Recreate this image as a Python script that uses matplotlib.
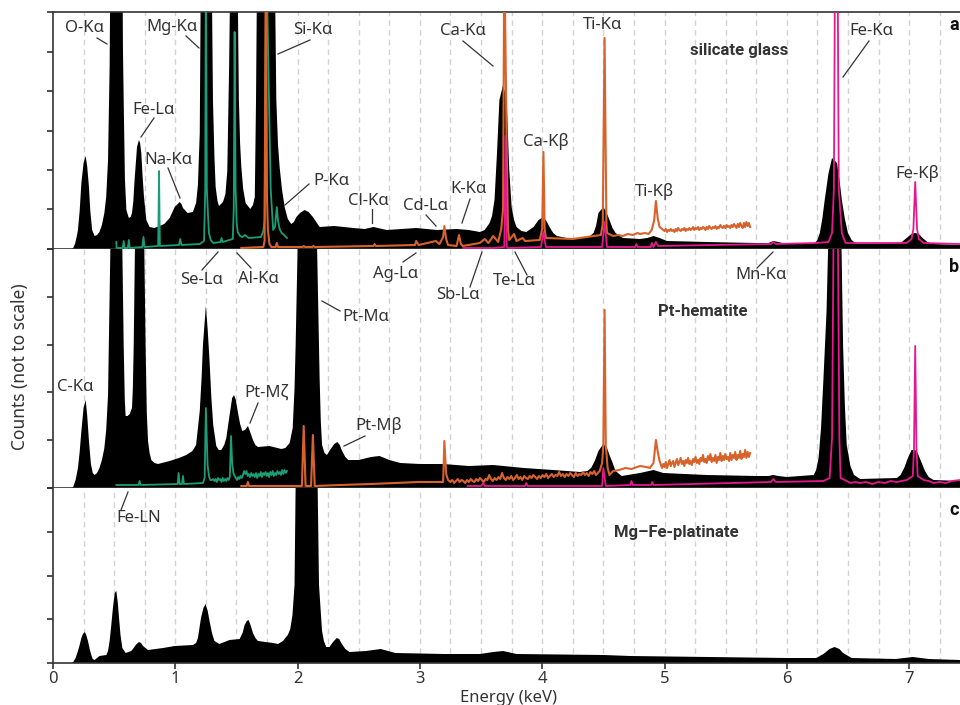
import numpy as np
import matplotlib.pyplot as plt
from matplotlib.lines import Line2D

plt.rcParams["font.family"] = ["Noto Sans", "DejaVu Sans"]

# energies in keV, counts in arbitrary units (not to scale)
# panel a, silicate glass: rows are (energy, counts)
a_black = np.array([
    (0, 0), (.15, 0), (.165, 1), (.18, 5), (.195, 13), (.204, 19), (.218, 38), (.232, 66), (.25, 86), (.267, 93), (.28, 82),
    (.294, 62), (.305, 38), (.32, 19), (.34, 13), (.36, 14), (.38, 17), (.40, 24), (.42, 36), (.435, 52), (.45, 89), (.463, 182),
    (.47, 300), (.52, 900), (.567, 300), (.572, 200), (.578, 149), (.588, 70), (.6, 39), (.62, 31), (.635, 32), (.646, 36), (.657, 48),
    (.667, 69), (.687, 102), (.703, 109), (.712, 106), (.722, 96), (.733, 72), (.744, 52), (.763, 29), (.79, 22), (.83, 21), (.87, 23),
    (.91, 25), (.954, 31), (.995, 42), (1.02, 45), (1.035, 47), (1.05, 45), (1.063, 41), (1.10, 36), (1.144, 37), (1.17, 46), (1.185, 64),
    (1.2, 116), (1.21, 300), (1.25, 900), (1.296, 300), (1.308, 149), (1.32, 92), (1.33, 62), (1.345, 48), (1.357, 43), (1.39, 47),
    (1.41, 55), (1.425, 78), (1.44, 182), (1.452, 300), (1.487, 700), (1.507, 300), (1.52, 149), (1.53, 105), (1.54, 82), (1.555, 60),
    (1.575, 46), (1.613, 40), (1.635, 44), (1.65, 52), (1.66, 149), (1.67, 300), (1.74, 900), (1.812, 300), (1.826, 149), (1.84, 104),
    (1.853, 82), (1.872, 60), (1.894, 42), (1.92, 30), (1.948, 25), (1.97, 27), (1.99, 32), (2.02, 36), (2.057, 39), (2.09, 37), (2.125, 32),
    (2.18, 22), (2.3, 23), (2.456, 21), (2.55, 20), (2.62, 22), (2.73, 19), (2.85, 20), (2.97, 21), (3.14, 19), (3.3, 20), (3.4, 19),
    (3.49, 17), (3.53, 19), (3.57, 26), (3.59, 33), (3.61, 49), (3.63, 95), (3.65, 149), (3.68, 164), (3.71, 149), (3.73, 80), (3.75, 42),
    (3.77, 29), (3.79, 22), (3.83, 18), (3.87, 17), (3.93, 22), (3.97, 29), (4.01, 32), (4.035, 28), (4.06, 22), (4.09, 16), (4.12, 13),
    (4.2, 11), (4.31, 11), (4.38, 12), (4.42, 16), (4.44, 23), (4.46, 36), (4.5, 42), (4.525, 37), (4.55, 29), (4.575, 21), (4.6, 16),
    (4.66, 11), (4.8, 10), (4.86, 11), (4.91, 13), (4.96, 11), (5.02, 8), (5.345, 7), (5.75, 6), (5.85, 6), (5.89, 8), (5.93, 7), (6.0, 5),
    (6.23, 6), (6.25, 9), (6.27, 16), (6.29, 30), (6.31, 49), (6.34, 75), (6.37, 91), (6.41, 86), (6.43, 70), (6.45, 49), (6.475, 30), (6.5, 16),
    (6.53, 9), (6.57, 5), (6.93, 6), (6.98, 11), (7.02, 15), (7.05, 16), (7.08, 15), (7.11, 11), (7.15, 7), (7.2, 5), (7.416, 4),
])
a_green = np.array([
    (.518, 7), (.52, 1), (.57, 1), (.578, 8), (.585, 1), (.612, 1), (.62, 9), (.628, 1), (.73, 2), (.74, 12), (.748, 2), (.86, 3),
    (.867, 78), (.874, 3), (1.03, 4), (1.04, 10), (1.05, 4), (1.2, 5), (1.235, 8), (1.245, 60), (1.25, 300), (1.258, 60), (1.267, 35),
    (1.275, 16), (1.29, 9), (1.31, 6), (1.37, 7), (1.378, 11), (1.386, 7), (1.47, 10), (1.478, 40), (1.485, 217), (1.493, 61),
    (1.502, 26), (1.51, 17), (1.53, 13), (1.55, 12), (1.57, 14), (1.60, 11), (1.70, 12), (1.72, 18), (1.73, 30), (1.744, 300),
    (1.766, 149), (1.78, 60), (1.8, 19), (1.815, 22), (1.83, 42), (1.84, 28), (1.853, 20), (1.87, 16), (1.89, 14), (1.913, 11),
])
a_orange = np.array([
    (1.54, 1), (1.72, 2), (1.73, 8), (1.74, 300), (1.75, 50), (1.757, 19), (1.77, 5), (1.785, 2), (1.82, 2), (1.83, 6), (1.84, 2),
    (2.04, 2), (2.05, 3), (2.06, 2), (2.12, 2), (2.13, 3), (2.14, 2), (2.62, 3), (2.63, 5), (2.64, 3), (2.96, 4), (2.97, 8), (2.99, 4),
    (3.13, 8), (3.16, 5), (3.19, 12), (3.2, 23), (3.215, 10), (3.23, 4), (3.3, 3), (3.32, 14), (3.335, 5), (3.35, 3), (3.49, 6), (3.53, 10),
    (3.56, 6), (3.6, 13), (3.64, 7), (3.665, 20), (3.68, 40), (3.69, 300), (3.7, 200), (3.71, 100), (3.72, 20), (3.73, 9), (3.77, 15),
    (3.79, 8), (3.84, 11), (3.86, 8), (3.98, 9), (4.0, 20), (4.01, 97), (4.02, 20), (4.03, 11), (4.25, 10), (4.48, 14), (4.495, 25),
    (4.51, 211), (4.525, 25), (4.53, 16), (4.58, 13), (4.62, 14), (4.66, 13), (4.7, 15), (4.74, 14), (4.78, 16), (4.8, 15), (4.84, 16),
    (4.87, 15), (4.895, 19), (4.915, 28), (4.93, 48), (4.945, 30), (4.96, 22),
])
# noisy end of the orange spectrum, equal channels 4.98 to 5.7 keV
a_orange_tail = [20, 19, 18, 20, 17, 19, 18, 20, 18, 19, 17, 20, 18, 21, 19, 18, 20, 19, 21, 18, 20, 19, 21, 19, 20, 22, 19, 21, 20, 22, 19, 21, 20, 22, 21, 19, 22, 20, 23, 21, 20, 22, 21, 23, 20, 22, 21, 24, 22, 21, 23, 21, 24, 22, 23, 21, 24, 22, 25, 23, 21, 25, 22, 26, 23, 21, 26, 22, 27, 23, 26, 22]
a_pink = np.array([
    (3.355, 1), (3.6, 1), (3.69, 2), (3.7, 113), (3.71, 2), (3.72, 1), (3.99, 2), (4.01, 17), (4.03, 2), (4.49, 2), (4.51, 27), (4.53, 2),
    (4.76, 2), (4.77, 5), (4.78, 2), (4.89, 2), (4.895, 6), (4.91, 2), (4.93, 7), (4.95, 3), (5.87, 5), (5.89, 7), (5.91, 5), (6.24, 6),
    (6.34, 7), (6.37, 16), (6.385, 60), (6.395, 300), (6.415, 300), (6.425, 60), (6.45, 16), (6.48, 6), (6.98, 6), (7.02, 10), (7.035, 20),
    (7.05, 67), (7.065, 20), (7.08, 10), (7.12, 6), (7.416, 5),
])

# panel b, Pt-hematite
b_black = np.array([
    (0, 0), (.15, 0), (.165, 1), (.185, 8), (.204, 20), (.218, 36), (.232, 57), (.25, 80), (.267, 88), (.28, 72), (.294, 47), (.31, 24),
    (.325, 15), (.34, 13), (.36, 15), (.38, 20), (.40, 28), (.42, 40), (.435, 58), (.45, 93), (.463, 193), (.477, 300), (.52, 900), (.56, 300),
    (.578, 143), (.587, 88), (.594, 72), (.61, 72), (.627, 74), (.646, 80), (.653, 100), (.66, 143), (.676, 300), (.71, 900), (.74, 300),
    (.757, 143), (.767, 75), (.777, 47), (.79, 35), (.804, 28), (.83, 25), (.858, 24), (.954, 27), (1.03, 30), (1.09, 33), (1.14, 37), (1.17, 43),
    (1.2, 77), (1.215, 110), (1.226, 143), (1.25, 182), (1.265, 158), (1.28, 127), (1.295, 90), (1.31, 63), (1.335, 42), (1.355, 38), (1.376, 38),
    (1.40, 43), (1.417, 50), (1.444, 73), (1.465, 90), (1.48, 93), (1.495, 88), (1.51, 77), (1.53, 64), (1.548, 57), (1.57, 58), (1.594, 62),
    (1.615, 55), (1.635, 48), (1.655, 43), (1.676, 41), (1.77, 42), (1.867, 39), (1.90, 40), (1.935, 45), (1.96, 60), (1.975, 100), (1.984, 143),
    (2.01, 300), (2.08, 900), (2.15, 300), (2.18, 110), (2.19, 66), (2.2, 43), (2.22, 35), (2.24, 33), (2.265, 38), (2.3, 44), (2.325, 46),
    (2.345, 43), (2.36, 38), (2.39, 31), (2.415, 28), (2.5, 28), (2.6, 31), (2.67, 32), (2.75, 28), (2.84, 25), (3.0, 24), (3.19, 24), (3.4, 22),
    (3.6, 23), (3.85, 20), (4.09, 18), (4.31, 16), (4.37, 17), (4.4, 20), (4.43, 27), (4.46, 37), (4.5, 44), (4.53, 40), (4.55, 33), (4.57, 27),
    (4.6, 17), (4.65, 12), (4.8, 15), (4.91, 18), (4.99, 15), (5.345, 13), (5.75, 12), (5.85, 12), (5.89, 13), (5.93, 12), (6.0, 11), (6.22, 13),
    (6.24, 18), (6.26, 30), (6.28, 60), (6.3, 110), (6.325, 177), (6.35, 300), (6.4, 900), (6.44, 300), (6.46, 143), (6.475, 82), (6.49, 43), (6.52, 22),
    (6.55, 13), (6.6, 9), (6.9, 10), (6.93, 13), (6.96, 20), (6.99, 30), (7.02, 38), (7.05, 38), (7.07, 35), (7.1, 26), (7.13, 17), (7.16, 11), (7.2, 8), (7.416, 7),
])
b_green = np.array([
    (.518, 3), (.6, 3), (.7, 3), (.708, 7), (.716, 3), (1.02, 4), (1.027, 15), (1.035, 4), (1.055, 4), (1.063, 12), (1.07, 4), (1.226, 5), (1.24, 10),
    (1.25, 80), (1.264, 23), (1.275, 12), (1.286, 8),
])
# noisy end of the green spectrum, equal channels 1.30 to 1.913 keV
b_green_tail = [8, 9, 7, 9, 6, 10, 8, 9, 6, 10, 7, 9, 7, 10, 8, 11, 52, 24, 15, 12, 10, 8, 11, 9, 12, 10, 13, 17, 14, 17, 12, 14, 11, 15, 12, 14, 11, 15, 10, 14, 12, 16, 11, 15, 13, 16, 12, 15, 11, 16, 13, 17, 12, 15, 13, 17, 14, 16, 13, 18, 14, 18, 15, 17]
b_orange = np.array([
    (1.54, 2), (1.585, 2), (1.594, 6), (1.603, 2), (2.035, 2), (2.05, 62), (2.065, 2), (2.11, 2), (2.125, 53), (2.14, 2), (2.33, 3), (2.35, 3), (2.6, 4),
    (2.99, 6), (3.19, 6), (3.2, 47), (3.215, 14), (3.23, 8),
])
# noisy middle of the orange spectrum, equal channels 3.25 to 4.47 keV
b_orange_mid = [6, 8, 5, 7, 9, 6, 8, 7, 5, 8, 6, 9, 7, 6, 9, 7, 10, 8, 6, 9, 8, 13, 9, 7, 10, 8, 11, 9, 15, 10, 8, 11, 9, 12, 8, 10, 13, 9, 11, 8, 12, 10, 9, 12, 10, 13, 11, 9, 12, 10, 13, 11, 14, 10, 12, 14, 11, 13, 12, 16, 12, 14, 11, 14, 12, 15, 13, 11, 15, 12, 14, 13, 16, 13, 15, 12, 16, 14, 17, 13, 15, 17]
b_orange_peak = np.array([
    (4.49, 25), (4.5, 43), (4.51, 178), (4.52, 43), (4.535, 20), (4.55, 13), (4.58, 17), (4.63, 18), (4.68, 20), (4.73, 19), (4.8, 22), (4.85, 21), (4.88, 20),
    (4.91, 25), (4.93, 48), (4.945, 36), (4.96, 27),
])
# noisy end of the orange spectrum, equal channels 4.98 to 5.7 keV
b_orange_tail = [20, 24, 21, 26, 20, 24, 28, 22, 25, 27, 21, 25, 29, 23, 26, 30, 24, 27, 22, 28, 25, 30, 24, 27, 23, 29, 26, 31, 25, 28, 24, 30, 27, 33, 26, 29, 25, 32, 28, 34, 26, 30, 27, 33, 25, 31, 28, 35, 27, 32, 28, 34, 29, 31, 27, 35, 28, 33, 30, 36, 28, 33, 30, 37, 29, 34, 31, 38, 30, 36, 31, 35]
b_pink = np.array([
    (3.39, 2), (3.5, 2), (3.52, 5), (3.53, 2), (3.6, 2), (3.86, 2), (3.87, 5), (3.88, 2), (4.49, 2), (4.5, 20), (4.52, 2), (4.72, 3), (4.73, 7), (4.74, 3),
    (4.89, 3), (4.9, 6), (4.91, 3), (5.87, 6), (5.89, 9), (5.91, 6), (6.3, 7), (6.35, 10), (6.37, 50), (6.385, 300), (6.415, 300), (6.43, 50), (6.44, 10), (6.49, 7),
    (6.52, 5), (6.56, 6), (6.6, 5), (6.65, 6), (6.7, 4), (6.75, 6), (6.8, 5), (6.85, 7), (6.9, 6), (6.98, 8), (7.03, 12), (7.04, 40), (7.05, 142), (7.06, 40),
    (7.07, 12), (7.12, 8), (7.16, 7), (7.2, 5), (7.25, 6), (7.3, 5), (7.35, 7), (7.416, 8),
])

# panel c, Mg-Fe-platinate
c_black = np.array([
    (0, 0), (.15, 0), (.165, 1), (.185, 5), (.204, 12), (.218, 18), (.232, 25), (.245, 29), (.26, 31), (.272, 28), (.286, 22), (.3, 14), (.313, 8),
    (.325, 4), (.34, 3), (.36, 5), (.38, 7), (.436, 8), (.45, 12), (.463, 22), (.475, 36), (.49, 55), (.505, 70), (.518, 72), (.53, 60), (.54, 45), (.552, 28), (.567, 15),
    (.594, 10), (.64, 12), (.66, 15), (.676, 18), (.703, 21), (.72, 20), (.736, 17), (.777, 13), (.9, 15), (.995, 17), (1.144, 18), (1.17, 20), (1.185, 25),
    (1.21, 45), (1.23, 55), (1.248, 59), (1.265, 52), (1.28, 42), (1.30, 30), (1.32, 22), (1.36, 19), (1.444, 23), (1.526, 24), (1.55, 30), (1.567, 38),
    (1.585, 42), (1.6, 43), (1.615, 38), (1.635, 30), (1.655, 25), (1.676, 22), (1.8, 20), (1.84, 19), (1.88, 22), (1.92, 28), (1.94, 34), (1.958, 48), (1.975, 78),
    (1.995, 300), (2.08, 900), (2.15, 300), (2.175, 78), (2.19, 50), (2.2, 32), (2.215, 22), (2.234, 16), (2.26, 16), (2.29, 21), (2.32, 25), (2.34, 24), (2.357, 20),
    (2.39, 14), (2.425, 11), (2.56, 12), (2.68, 14), (2.8, 10), (3.2, 9), (3.49, 9), (3.6, 11), (3.68, 12), (3.79, 9), (4.5, 8), (4.72, 7), (6.0, 5), (6.24, 5), (6.3, 9),
    (6.35, 14), (6.39, 16), (6.43, 14), (6.46, 10), (6.53, 5), (6.89, 4), (7.03, 6), (7.16, 4), (7.416, 3),
])

panel_a_ticks = np.linspace(0, 237, 7)
panel_b_ticks = np.linspace(0, 239, 6)
panel_c_ticks = np.linspace(0, 175, 5)
energy_ticks = [0, 1, 2, 3, 4, 5, 6, 7]
grid_energies = np.arange(0.25, 7.5, 0.25)

GREEN = "#1b9e77"
ORANGE = "#d9622b"
PINK = "#e6188c"
DARK = "#333333"
W, H = 960, 705

fig = plt.figure(figsize=(W / 100, H / 100), dpi=100)


def panel(top, bottom, ymax, ticks):
    ax = fig.add_axes([53 / W, 1 - bottom / H, (W - 53) / W, (bottom - top) / H])
    ax.set_xlim(0, (W - 53) / 122.3)
    ax.set_ylim(0, ymax)
    ax.set_yticks(ticks)
    ax.set_yticklabels([])
    ax.set_xticks([])
    for x in grid_energies:
        ax.axvline(x, color="#d2d2d2", lw=1.0, dashes=(4, 3), zorder=0)
    ax.spines["right"].set_visible(False)
    ax.spines["top"].set_visible(False)
    for s in ["left", "bottom"]:
        ax.spines[s].set_linewidth(1.2)
        ax.spines[s].set_color(DARK)
    ax.tick_params(axis="both", length=4.5, width=1.2, color=DARK)
    return ax


ax_a = panel(12, 249, 237, panel_a_ticks)
ax_b = panel(249, 488, 239, panel_b_ticks)
ax_c = panel(488, 663, 175, panel_c_ticks)
ax_a.spines["top"].set_visible(True)
ax_a.spines["top"].set_linewidth(1.2)
ax_a.spines["top"].set_color(DARK)

ax_a.fill_between(a_black[:, 0], a_black[:, 1], color="black", lw=0, zorder=2)
ax_a.plot(a_green[:, 0], a_green[:, 1], color=GREEN, lw=1.3, zorder=3)
orange_x = np.r_[a_orange[:, 0], np.linspace(4.98, 5.7, len(a_orange_tail))]
ax_a.plot(orange_x, np.r_[a_orange[:, 1], a_orange_tail], color=ORANGE, lw=1.5, zorder=4)
ax_a.plot(a_pink[:, 0], a_pink[:, 1], color=PINK, lw=1.3, zorder=5)

ax_b.fill_between(b_black[:, 0], b_black[:, 1], color="black", lw=0, zorder=2)
green_x = np.r_[b_green[:, 0], np.linspace(1.30, 1.913, len(b_green_tail))]
ax_b.plot(green_x, np.r_[b_green[:, 1], b_green_tail], color=GREEN, lw=1.3, zorder=3)
orange_x = np.r_[b_orange[:, 0], np.linspace(3.25, 4.47, len(b_orange_mid)), b_orange_peak[:, 0], np.linspace(4.98, 5.7, len(b_orange_tail))]
orange_y = np.r_[b_orange[:, 1], b_orange_mid, b_orange_peak[:, 1], b_orange_tail]
ax_b.plot(orange_x, orange_y, color=ORANGE, lw=1.5, zorder=4)
ax_b.plot(b_pink[:, 0], b_pink[:, 1], color=PINK, lw=1.3, zorder=5)

ax_c.fill_between(c_black[:, 0], c_black[:, 1], color="black", lw=0, zorder=2)
ax_c.set_xticks(energy_ticks)
ax_c.set_xticklabels([str(e) for e in energy_ticks], fontsize=12, color=DARK)
ax_c.tick_params(axis="x", pad=1.5)

# peak labels: text, centre of text in pixels, leader line in pixels
peak_labels = [
    ("O-Kα", 84, 28, (97, 38, 107, 44)),
    ("Mg-Kα", 172, 27, (186, 36, 199, 48)),
    ("Si-Kα", 313, 30, (310, 40, 278, 54)),
    ("Fe-Lα", 154, 110, (154, 118, 141, 137)),
    ("Na-Kα", 168, 160, (168, 168, 180, 198)),
    ("Ca-Kα", 463, 31, (463, 41, 493, 66)),
    ("Ti-Kα", 603, 25, None),
    ("Ca-Kβ", 546, 142, None),
    ("Fe-Kα", 871, 31, (869, 41, 843, 77)),
    ("Fe-Kβ", 917, 174, None),
    ("Ti-Kβ", 654, 192, None),
    ("P-Kα", 331, 181, (309, 184, 285, 205)),
    ("Cl-Kα", 368, 201, (372, 209, 372, 223)),
    ("Cd-Lα", 425, 206, (426, 215, 436, 226)),
    ("K-Kα", 469, 189, (470, 199, 462, 223)),
    ("Ag-Lα", 396, 274, (403, 262, 416, 253)),
    ("Sb-Lα", 458, 295, (470, 287, 482, 252)),
    ("Te-Lα", 514, 281, (527, 275, 515, 252)),
    ("Mn-Kα", 761, 275, (757, 268, 773, 252)),
    ("Se-Lα", 202, 280, (202, 270, 218, 252)),
    ("Al-Kα", 258, 279, (251, 268, 237, 253)),
    ("Pt-Mα", 366, 317, (340, 311, 322, 301)),
    ("Pt-Mβ", 379, 426, (365, 436, 344, 446)),
    ("Pt-Mζ", 267, 393, (258, 403, 250, 423)),
    ("C-Kα", 75, 387, None),
    ("Fe-LN", 139, 518, (128, 492, 121, 510)),
]
for name, x, y, leader in peak_labels:
    fig.text(x / W, 1 - y / H, name, ha="center", va="center", fontsize=12, color=DARK)
    if leader:
        x0, y0, x1, y1 = leader
        fig.add_artist(Line2D([x0 / W, x1 / W], [1 - y0 / H, 1 - y1 / H], color=DARK, lw=0.9))

# Noto Sans has no bold face here, Roboto has
for name, x, y in [("silicate glass", 739, 51), ("Pt-hematite", 703, 312), ("Mg–Fe-platinate", 676, 533)]:
    fig.text(x / W, 1 - y / H, name, ha="center", va="center", fontsize=12, family="Roboto", fontweight="bold", color=DARK)
for name, y in [("a", 25), ("b", 267), ("c", 510)]:
    fig.text(949 / W, 1 - y / H, name, ha="left", va="center", fontsize=13, family="Roboto", fontweight="bold", color="#111111")

fig.text(20 / W, 1 - 367 / H, "Counts (not to scale)", rotation=90, ha="center", va="center", fontsize=12.5, color=DARK)
fig.text(509 / W, 1 - 698 / H, "Energy (keV)", ha="center", va="center", fontsize=12, color=DARK)

fig.savefig("out.png", dpi=100)
